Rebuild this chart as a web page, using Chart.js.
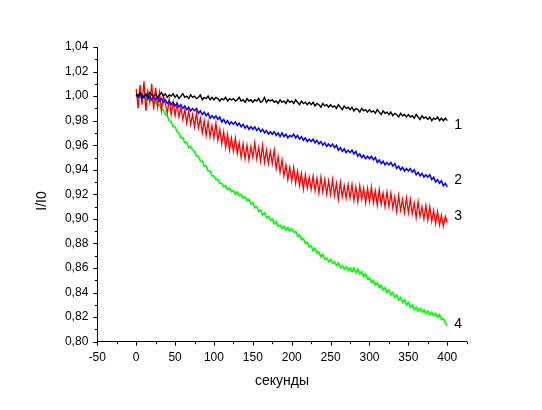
<!DOCTYPE html>
<html>
<head>
<meta charset="utf-8">
<script src="https://cdn.jsdelivr.net/npm/chart.js@4.4.1/dist/chart.umd.min.js"></script>
<style>
  html, body { margin: 0; padding: 0; background: #fff; }
  canvas { display: block; }
</style>
</head>
<body>
<canvas id="chart" width="542" height="410"></canvas>
<script>
// time, seconds (every 2.5 s)
var seconds = [
    0, 2.5, 5, 7.5, 10, 12.5, 15, 17.5, 20, 22.5,
    25, 27.5, 30, 32.5, 35, 37.5, 40, 42.5, 45, 47.5,
    50, 52.5, 55, 57.5, 60, 62.5, 65, 67.5, 70, 72.5,
    75, 77.5, 80, 82.5, 85, 87.5, 90, 92.5, 95, 97.5,
    100, 102.5, 105, 107.5, 110, 112.5, 115, 117.5, 120, 122.5,
    125, 127.5, 130, 132.5, 135, 137.5, 140, 142.5, 145, 147.5,
    150, 152.5, 155, 157.5, 160, 162.5, 165, 167.5, 170, 172.5,
    175, 177.5, 180, 182.5, 185, 187.5, 190, 192.5, 195, 197.5,
    200, 202.5, 205, 207.5, 210, 212.5, 215, 217.5, 220, 222.5,
    225, 227.5, 230, 232.5, 235, 237.5, 240, 242.5, 245, 247.5,
    250, 252.5, 255, 257.5, 260, 262.5, 265, 267.5, 270, 272.5,
    275, 277.5, 280, 282.5, 285, 287.5, 290, 292.5, 295, 297.5,
    300, 302.5, 305, 307.5, 310, 312.5, 315, 317.5, 320, 322.5,
    325, 327.5, 330, 332.5, 335, 337.5, 340, 342.5, 345, 347.5,
    350, 352.5, 355, 357.5, 360, 362.5, 365, 367.5, 370, 372.5,
    375, 377.5, 380, 382.5, 385, 387.5, 390, 392.5, 395, 397.5,
    400];

// I/I0, curves 1..4
var curve1 = [
    1.002, 1.000, 1.003, 1.001, 0.999, 1.002, 1.000, 1.003, 1.001, 1.000,
    1.002, 0.999, 1.001, 1.003, 1.000, 1.002, 0.999, 1.001, 1.000, 1.002,
    0.999, 1.001, 0.998, 1.000, 1.002, 0.999, 1.000, 0.998, 1.001, 0.999,
    1.000, 0.998, 0.999, 1.001, 0.997, 0.999, 0.998, 1.000, 0.997, 0.999,
    0.997, 0.999, 0.998, 0.996, 0.998, 0.997, 0.999, 0.996, 0.998, 0.997,
    0.998, 0.996, 0.997, 0.999, 0.996, 0.997, 0.995, 0.998, 0.996, 0.997,
    0.995, 0.997, 0.996, 0.998, 0.995, 0.996, 0.999, 0.995, 0.997, 0.996,
    0.997, 0.995, 0.996, 0.994, 0.997, 0.995, 0.996, 0.994, 0.997, 0.995,
    0.996, 0.994, 0.997, 0.995, 0.993, 0.996, 0.994, 0.995, 0.993, 0.995,
    0.993, 0.995, 0.992, 0.994, 0.993, 0.991, 0.994, 0.992, 0.993, 0.991,
    0.993, 0.991, 0.992, 0.990, 0.993, 0.991, 0.989, 0.992, 0.990, 0.991,
    0.989, 0.991, 0.988, 0.990, 0.989, 0.987, 0.990, 0.988, 0.989, 0.987,
    0.989, 0.987, 0.988, 0.986, 0.989, 0.987, 0.985, 0.988, 0.986, 0.987,
    0.985, 0.987, 0.984, 0.986, 0.985, 0.983, 0.986, 0.984, 0.985, 0.983,
    0.985, 0.983, 0.984, 0.982, 0.985, 0.983, 0.981, 0.984, 0.982, 0.983,
    0.981, 0.983, 0.980, 0.982, 0.981, 0.983, 0.980, 0.982, 0.980, 0.982,
    0.980];
var curve2 = [
    1.001, 0.999, 1.002, 0.998, 1.000, 1.001, 0.998, 1.000, 0.997, 0.999,
    0.997, 0.999, 0.996, 0.998, 0.995, 0.997, 0.994, 0.996, 0.993, 0.995,
    0.992, 0.994, 0.991, 0.993, 0.990, 0.992, 0.989, 0.991, 0.988, 0.990,
    0.988, 0.990, 0.986, 0.988, 0.985, 0.987, 0.984, 0.986, 0.982, 0.984,
    0.982, 0.984, 0.981, 0.983, 0.979, 0.981, 0.978, 0.980, 0.977, 0.979,
    0.977, 0.979, 0.976, 0.978, 0.975, 0.977, 0.974, 0.976, 0.973, 0.975,
    0.973, 0.975, 0.972, 0.974, 0.971, 0.973, 0.970, 0.972, 0.969, 0.971,
    0.969, 0.971, 0.968, 0.970, 0.967, 0.970, 0.967, 0.969, 0.966, 0.968,
    0.967, 0.969, 0.966, 0.968, 0.965, 0.967, 0.964, 0.966, 0.963, 0.965,
    0.963, 0.965, 0.962, 0.964, 0.961, 0.963, 0.960, 0.962, 0.959, 0.961,
    0.959, 0.961, 0.958, 0.960, 0.956, 0.958, 0.955, 0.957, 0.954, 0.956,
    0.954, 0.956, 0.953, 0.955, 0.951, 0.953, 0.950, 0.952, 0.949, 0.951,
    0.949, 0.951, 0.948, 0.950, 0.946, 0.948, 0.945, 0.947, 0.944, 0.946,
    0.944, 0.946, 0.943, 0.945, 0.941, 0.943, 0.940, 0.942, 0.939, 0.941,
    0.939, 0.941, 0.938, 0.940, 0.936, 0.938, 0.935, 0.937, 0.934, 0.936,
    0.934, 0.936, 0.932, 0.934, 0.930, 0.932, 0.929, 0.931, 0.927, 0.929,
    0.926];
var curve3 = [
    1.006, 0.990, 1.009, 0.993, 1.012, 0.988, 1.004, 0.995, 1.010, 0.989,
    1.007, 0.991, 1.003, 0.988, 1.000, 0.994, 0.986, 0.998, 0.985, 0.995,
    0.984, 0.994, 0.983, 0.991, 0.981, 0.989, 0.978, 0.988, 0.977, 0.985,
    0.975, 0.986, 0.974, 0.982, 0.970, 0.980, 0.968, 0.979, 0.967, 0.976,
    0.966, 0.978, 0.964, 0.973, 0.961, 0.971, 0.958, 0.969, 0.956, 0.966,
    0.955, 0.966, 0.953, 0.962, 0.950, 0.961, 0.949, 0.960, 0.948, 0.959,
    0.950, 0.962, 0.949, 0.958, 0.947, 0.960, 0.946, 0.956, 0.945, 0.955,
    0.945, 0.956, 0.941, 0.951, 0.938, 0.948, 0.935, 0.944, 0.932, 0.942,
    0.931, 0.942, 0.929, 0.939, 0.927, 0.937, 0.924, 0.936, 0.925, 0.934,
    0.924, 0.935, 0.923, 0.933, 0.921, 0.934, 0.922, 0.932, 0.920, 0.931,
    0.920, 0.932, 0.919, 0.929, 0.916, 0.930, 0.918, 0.927, 0.917, 0.928,
    0.917, 0.928, 0.915, 0.926, 0.914, 0.927, 0.916, 0.925, 0.913, 0.925,
    0.914, 0.926, 0.913, 0.923, 0.911, 0.924, 0.912, 0.921, 0.910, 0.922,
    0.910, 0.921, 0.909, 0.918, 0.906, 0.919, 0.907, 0.916, 0.905, 0.917,
    0.905, 0.916, 0.904, 0.913, 0.901, 0.914, 0.902, 0.910, 0.900, 0.911,
    0.899, 0.910, 0.898, 0.907, 0.896, 0.906, 0.895, 0.903, 0.894, 0.902,
    0.897];
var curve4 = [
    1.001, 0.999, 1.000, 0.998, 0.999, 0.997, 0.998, 0.996, 0.997, 0.994,
    0.995, 0.992, 0.993, 0.989, 0.989, 0.985, 0.984, 0.980, 0.979, 0.975,
    0.975, 0.971, 0.970, 0.966, 0.966, 0.962, 0.962, 0.958, 0.959, 0.956,
    0.955, 0.951, 0.951, 0.947, 0.947, 0.943, 0.943, 0.939, 0.939, 0.935,
    0.935, 0.932, 0.932, 0.929, 0.929, 0.926, 0.927, 0.924, 0.925, 0.922,
    0.923, 0.920, 0.922, 0.919, 0.920, 0.917, 0.918, 0.915, 0.916, 0.912,
    0.913, 0.909, 0.910, 0.906, 0.907, 0.903, 0.905, 0.901, 0.902, 0.899,
    0.900, 0.896, 0.898, 0.894, 0.895, 0.892, 0.894, 0.891, 0.893, 0.890,
    0.892, 0.889, 0.890, 0.886, 0.887, 0.883, 0.884, 0.880, 0.881, 0.877,
    0.878, 0.874, 0.876, 0.872, 0.873, 0.869, 0.871, 0.867, 0.868, 0.865,
    0.867, 0.864, 0.865, 0.862, 0.864, 0.860, 0.862, 0.859, 0.861, 0.858,
    0.860, 0.857, 0.860, 0.856, 0.859, 0.855, 0.857, 0.853, 0.855, 0.851,
    0.852, 0.848, 0.850, 0.846, 0.848, 0.844, 0.846, 0.842, 0.844, 0.840,
    0.842, 0.838, 0.840, 0.836, 0.838, 0.834, 0.836, 0.832, 0.834, 0.830,
    0.832, 0.828, 0.830, 0.826, 0.828, 0.825, 0.827, 0.824, 0.826, 0.823,
    0.825, 0.822, 0.824, 0.821, 0.823, 0.820, 0.822, 0.818, 0.819, 0.815,
    0.813];

var curveNames = ['1', '2', '3', '4'];
var curveColors = ['#000000', '#0000ff', '#ff0000', '#00ff00'];
var curveWidths = [1.4, 1.5, 1.3, 1.6];
// small vertical nudge of the curve numbers, px
var nameNudge = [4, -7, -6, -2];

var font = "'Liberation Sans', Arial, sans-serif";

function points(vals) {
    return seconds.map(function(s, i) {
        return { x: s, y: vals[i] };
    });
}

var datasets = [curve1, curve2, curve3, curve4].map(function(vals, i) {
    return {
        label: curveNames[i],
        data: points(vals),
        borderColor: curveColors[i],
        borderWidth: curveWidths[i],
        pointRadius: 0,
        tension: 0,
        fill: false
    };
});

// tick marks (major + minor), curve numbers, axis titles
var decorPlugin = {
    id: 'decor',
    afterDraw: function(chart) {
        var ctx = chart.ctx, xs = chart.scales.x, ys = chart.scales.y;
        var area = chart.chartArea;
        ctx.save();
        ctx.strokeStyle = '#000';
        ctx.lineWidth = 1;
        ctx.beginPath();
        xs.ticks.forEach(function(t) {
            var px = Math.round(xs.getPixelForValue(t.value)) + 0.5;
            var len = Math.round(t.value) % 50 === 0 ? 4 : 2.5;
            ctx.moveTo(px, area.bottom);
            ctx.lineTo(px, area.bottom + len);
        });
        ys.ticks.forEach(function(t) {
            var py = Math.round(ys.getPixelForValue(t.value)) + 0.5;
            var len = Math.round(t.value * 100) % 2 === 0 ? 4 : 2.5;
            ctx.moveTo(area.left, py);
            ctx.lineTo(area.left - len, py);
        });
        ctx.stroke();

        ctx.fillStyle = '#000';
        ctx.font = '14px ' + font;
        ctx.textBaseline = 'middle';
        ctx.textAlign = 'left';
        chart.data.datasets.forEach(function(ds, i) {
            var last = ds.data[ds.data.length - 1];
            ctx.fillText(ds.label, xs.getPixelForValue(last.x) + 7, ys.getPixelForValue(last.y) + nameNudge[i]);
        });

        ctx.textAlign = 'center';
        ctx.fillText('секунды', (area.left + area.right) / 2, 381);
        ctx.translate(42, 201);
        ctx.rotate(-Math.PI / 2);
        ctx.fillText('I/I0', 0, 0);
        ctx.restore();
    }
};

new Chart(document.getElementById('chart').getContext('2d'), {
    type: 'line',
    data: { datasets: datasets },
    options: {
        responsive: false,
        animation: false,
        layout: { padding: { top: 47, right: 75.3, left: 0, bottom: 0 } },
        plugins: {
            legend: { display: false },
            tooltip: { enabled: false }
        },
        scales: {
            x: {
                type: 'linear',
                min: -50,
                max: 425,
                grid: { display: false, drawTicks: false },
                border: { display: true, color: '#000', width: 1 },
                ticks: {
                    stepSize: 25,
                    autoSkip: false,
                    maxRotation: 0,
                    padding: 9,
                    color: '#000',
                    font: { family: font, size: 12 },
                    callback: function(v) {
                        return Math.round(v) % 50 === 0 ? String(Math.round(v)) : '';
                    }
                },
                afterFit: function(scale) { scale.height = 68.3; }
            },
            y: {
                type: 'linear',
                min: 0.8,
                max: 1.04,
                grid: { display: false, drawTicks: false },
                border: { display: true, color: '#000', width: 1 },
                ticks: {
                    stepSize: 0.01,
                    autoSkip: false,
                    padding: 9,
                    color: '#000',
                    font: { family: font, size: 12 },
                    callback: function(v) {
                        return Math.round(v * 100) % 2 === 0 ? v.toFixed(2).replace('.', ',') : '';
                    }
                },
                afterFit: function(scale) { scale.width = 97.3; }
            }
        }
    },
    plugins: [decorPlugin]
});
</script>
</body>
</html>
